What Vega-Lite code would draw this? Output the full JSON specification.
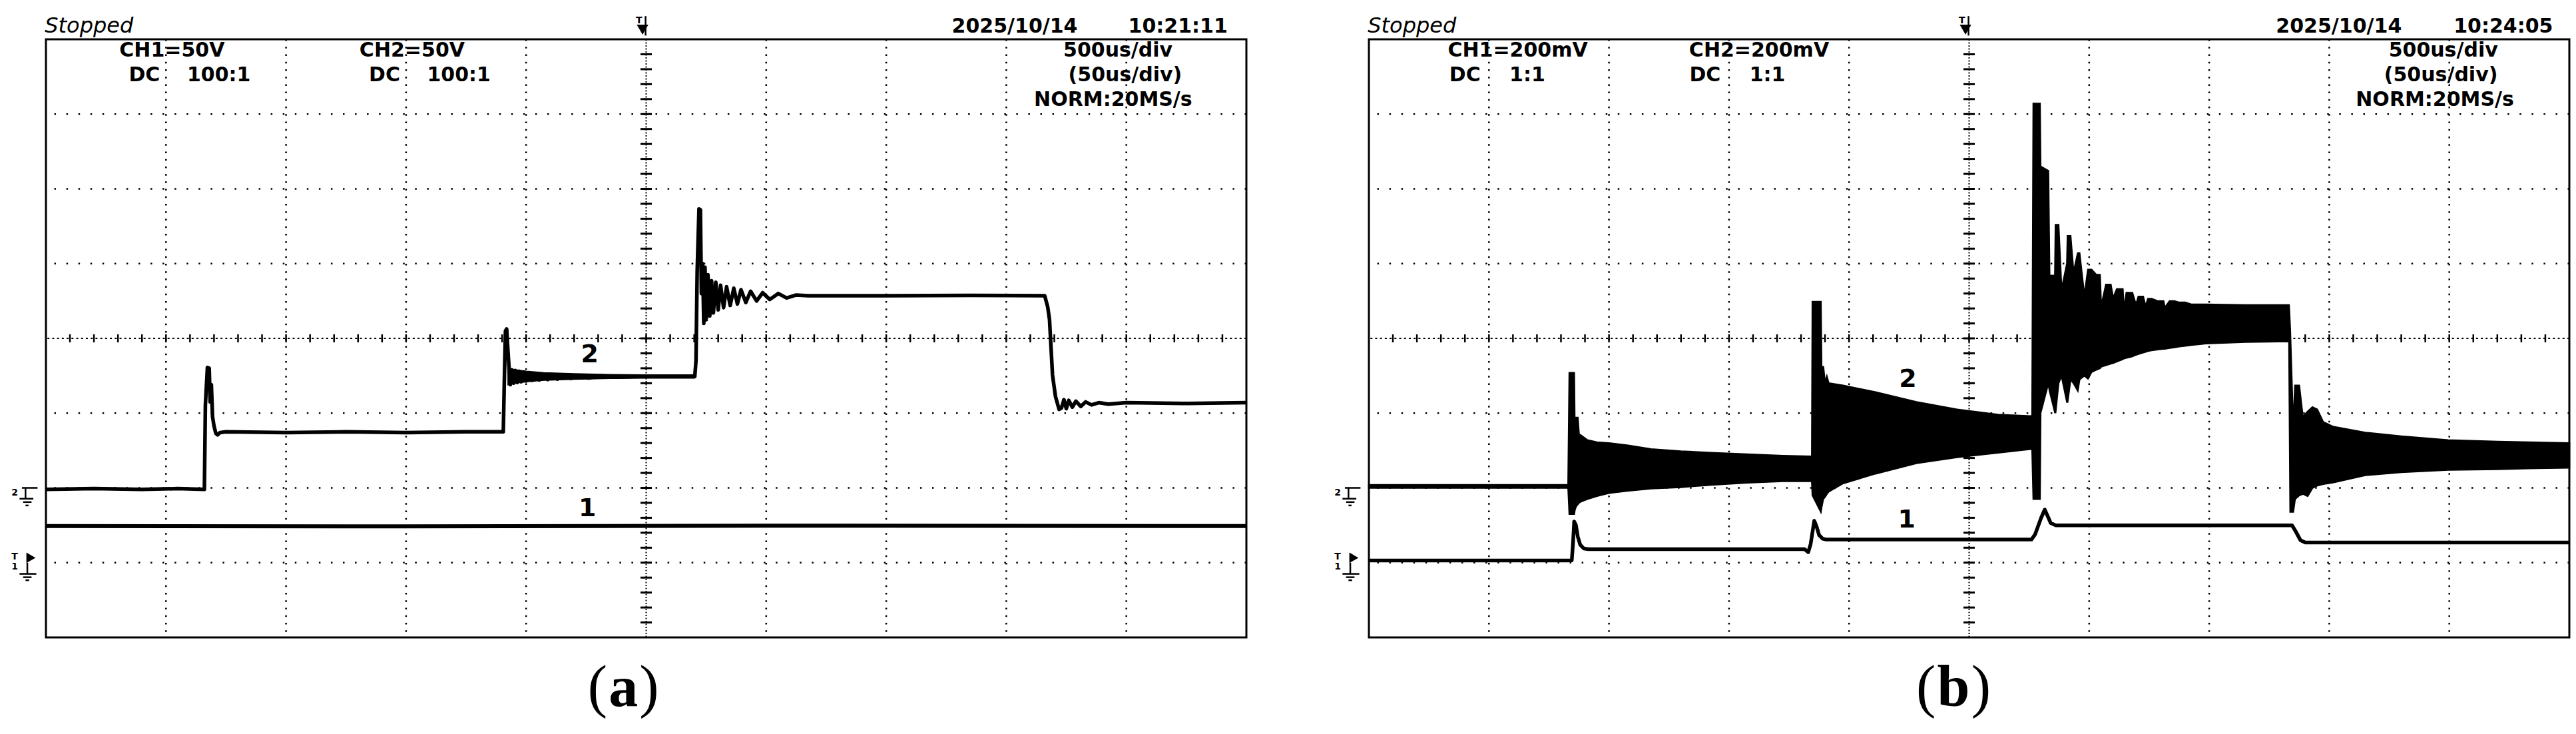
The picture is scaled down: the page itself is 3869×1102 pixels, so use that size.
{
"$schema": "https://vega.github.io/schema/vega-lite/v6.json",
"background": "white",
"padding": {"left": 15, "top": 21, "right": 5, "bottom": 5},
"spacing": 125,
"config": {"view": {"stroke": "black", "strokeWidth": 3}},
"datasets": {
"gx": [{"v":-4},{"v":-3},{"v":-2},{"v":-1},{"v":1},{"v":2},{"v":3},{"v":4}],
"gy": [{"v":-3},{"v":-2},{"v":-1},{"v":1},{"v":2},{"v":3}],
"c0": [{"v":0}],
"ty": [{"v":-3.8},{"v":-3.6},{"v":-3.4},{"v":-3.2},{"v":-3},{"v":-2.8},{"v":-2.6},{"v":-2.4},{"v":-2.2},{"v":-2},{"v":-1.8},{"v":-1.6},{"v":-1.4},{"v":-1.2},{"v":-1},{"v":-0.8},{"v":-0.6},{"v":-0.4},{"v":-0.2},{"v":0},{"v":0.2},{"v":0.4},{"v":0.6},{"v":0.8},{"v":1},{"v":1.2},{"v":1.4},{"v":1.6},{"v":1.8},{"v":2},{"v":2.2},{"v":2.4},{"v":2.6},{"v":2.8},{"v":3},{"v":3.2},{"v":3.4},{"v":3.6},{"v":3.8}],
"tx": [{"v":-4.8},{"v":-4.6},{"v":-4.4},{"v":-4.2},{"v":-4},{"v":-3.8},{"v":-3.6},{"v":-3.4},{"v":-3.2},{"v":-3},{"v":-2.8},{"v":-2.6},{"v":-2.4},{"v":-2.2},{"v":-2},{"v":-1.8},{"v":-1.6},{"v":-1.4},{"v":-1.2},{"v":-1},{"v":-0.8},{"v":-0.6},{"v":-0.4},{"v":-0.2},{"v":0},{"v":0.2},{"v":0.4},{"v":0.6},{"v":0.8},{"v":1},{"v":1.2},{"v":1.4},{"v":1.6},{"v":1.8},{"v":2},{"v":2.2},{"v":2.4},{"v":2.6},{"v":2.8},{"v":3},{"v":3.2},{"v":3.4},{"v":3.6},{"v":3.8},{"v":4},{"v":4.2},{"v":4.4},{"v":4.6},{"v":4.8}],
"mkr": [
{"x":-5.2,"x2":-5.07,"y":-2.0,"y2":-2.0},
{"x":-5.17,"x2":-5.17,"y":-2.0,"y2":-2.145},
{"x":-5.22,"x2":-5.105,"y":-2.145,"y2":-2.145},
{"x":-5.19,"x2":-5.12,"y":-2.19,"y2":-2.19},
{"x":-5.17,"x2":-5.145,"y":-2.235,"y2":-2.235},
{"x":-5.155,"x2":-5.155,"y":-3.0,"y2":-3.15},
{"x":-5.22,"x2":-5.08,"y":-3.15,"y2":-3.15},
{"x":-5.19,"x2":-5.12,"y":-3.195,"y2":-3.195},
{"x":-5.17,"x2":-5.14,"y":-3.235,"y2":-3.235},
{"x":-0.005,"x2":-0.005,"y":4.31,"y2":4.05}
],
"mkt": [{"x":-5.26,"y":-2.10,"t":"2"},{"x":-5.26,"y":-2.955,"t":"T"},{"x":-5.26,"y":-3.09,"t":"1"},{"x":-0.06,"y":4.21,"t":"T"}],
"tri1": [{"x":-5.125,"y":-2.935}],
"tri2": [{"x":-0.03,"y":4.13}],
"stp": [{"x":-5.01,"y":4.09,"t":"Stopped"}],
"hdrA": [
{"x":-3.95,"y":3.77,"t":"CH1=50V"},{"x":-1.95,"y":3.77,"t":"CH2=50V"},
{"x":-4.18,"y":3.44,"t":"DC"},{"x":-3.56,"y":3.44,"t":"100:1"},
{"x":-2.18,"y":3.44,"t":"DC"},{"x":-1.56,"y":3.44,"t":"100:1"},
{"x":3.93,"y":3.77,"t":"500us/div"},{"x":3.99,"y":3.44,"t":"(50us/div)"},{"x":3.89,"y":3.11,"t":"NORM:20MS/s"},
{"x":3.07,"y":4.09,"t":"2025/10/14"},{"x":4.43,"y":4.09,"t":"10:21:11"}],
"hdrB": [
{"x":-3.76,"y":3.77,"t":"CH1=200mV"},{"x":-1.75,"y":3.77,"t":"CH2=200mV"},
{"x":-4.2,"y":3.44,"t":"DC"},{"x":-3.68,"y":3.44,"t":"1:1"},
{"x":-2.2,"y":3.44,"t":"DC"},{"x":-1.68,"y":3.44,"t":"1:1"},
{"x":3.95,"y":3.77,"t":"500us/div"},{"x":3.93,"y":3.44,"t":"(50us/div)"},{"x":3.88,"y":3.11,"t":"NORM:20MS/s"},
{"x":3.08,"y":4.09,"t":"2025/10/14"},{"x":4.45,"y":4.09,"t":"10:24:05"}],
"lblA": [{"x":-0.47,"y":-0.32,"t":"2"},{"x":-0.49,"y":-2.38,"t":"1"}],
"lblB": [{"x":-0.51,"y":-0.65,"t":"2"},{"x":-0.52,"y":-2.53,"t":"1"}],
"parA": [{"x":-0.405,"y":-4.915,"t":"("},{"x":0.025,"y":-4.915,"t":")"}],
"letA": [{"x":-0.19,"y":-4.915,"t":"a"}],
"parB": [{"x":-0.36,"y":-4.915,"t":"("},{"x":0.1,"y":-4.915,"t":")"}],
"letB": [{"x":-0.13,"y":-4.915,"t":"b"}],
"aCH1": [{"x":-5,"y":-2.51},{"x":-2,"y":-2.515},{"x":1,"y":-2.505},{"x":5,"y":-2.51}],
"aBand": [
{"x":-1.15,"lo":-0.62,"hi":-0.40},{"x":-1.1,"lo":-0.6,"hi":-0.42},{"x":-1.0,"lo":-0.58,"hi":-0.44},
{"x":-0.85,"lo":-0.56,"hi":-0.46},{"x":-0.6,"lo":-0.545,"hi":-0.475},{"x":-0.3,"lo":-0.535,"hi":-0.485},
{"x":0.0,"lo":-0.53,"hi":-0.49},{"x":0.4,"lo":-0.53,"hi":-0.49}],
"aCH2": [
{"x":-5.0,"y":-2.02},{"x":-4.6,"y":-2.01},{"x":-4.2,"y":-2.02},{"x":-3.9,"y":-2.01},{"x":-3.68,"y":-2.02},
{"x":-3.672,"y":-0.9},{"x":-3.662,"y":-0.6},{"x":-3.655,"y":-0.39},{"x":-3.64,"y":-0.40},{"x":-3.632,"y":-0.85},
{"x":-3.622,"y":-0.62},{"x":-3.612,"y":-1.05},{"x":-3.60,"y":-1.17},{"x":-3.585,"y":-1.27},{"x":-3.57,"y":-1.29},
{"x":-3.55,"y":-1.26},{"x":-3.5,"y":-1.25},{"x":-3.0,"y":-1.26},{"x":-2.5,"y":-1.25},{"x":-2.0,"y":-1.26},
{"x":-1.5,"y":-1.25},{"x":-1.19,"y":-1.25},{"x":-1.182,"y":-0.6},{"x":-1.172,"y":0.1},{"x":-1.162,"y":0.125},
{"x":-1.152,"y":-0.15},{"x":-1.142,"y":-0.4},{"x":-1.132,"y":-0.62},{"x":-1.118,"y":-0.42},{"x":-1.104,"y":-0.6},
{"x":-1.09,"y":-0.43},{"x":-1.074,"y":-0.59},{"x":-1.058,"y":-0.44},{"x":-1.04,"y":-0.58},{"x":-1.02,"y":-0.45},
{"x":-1.0,"y":-0.57},{"x":-0.975,"y":-0.46},{"x":-0.95,"y":-0.56},{"x":-0.92,"y":-0.47},{"x":-0.89,"y":-0.555},
{"x":-0.855,"y":-0.48},{"x":-0.82,"y":-0.55},{"x":-0.78,"y":-0.485},{"x":-0.74,"y":-0.545},{"x":-0.69,"y":-0.49},
{"x":-0.63,"y":-0.535},{"x":-0.56,"y":-0.495},{"x":-0.48,"y":-0.53},{"x":-0.38,"y":-0.5},{"x":-0.25,"y":-0.52},
{"x":-0.1,"y":-0.51},{"x":0.405,"y":-0.51},{"x":0.415,"y":-0.3},{"x":0.425,"y":0.9},{"x":0.44,"y":1.73},
{"x":0.452,"y":1.72},{"x":0.46,"y":0.6},{"x":0.47,"y":1.0},{"x":0.48,"y":0.2},{"x":0.49,"y":0.95},
{"x":0.50,"y":0.25},{"x":0.515,"y":0.85},{"x":0.53,"y":0.3},{"x":0.545,"y":0.77},{"x":0.56,"y":0.34},
{"x":0.58,"y":0.75},{"x":0.60,"y":0.38},{"x":0.62,"y":0.71},{"x":0.645,"y":0.41},{"x":0.67,"y":0.69},
{"x":0.70,"y":0.44},{"x":0.73,"y":0.67},{"x":0.76,"y":0.46},{"x":0.79,"y":0.65},{"x":0.83,"y":0.48},
{"x":0.87,"y":0.63},{"x":0.92,"y":0.5},{"x":0.97,"y":0.61},{"x":1.03,"y":0.52},{"x":1.10,"y":0.6},
{"x":1.17,"y":0.54},{"x":1.25,"y":0.58},{"x":1.35,"y":0.57},{"x":2.0,"y":0.57},{"x":2.7,"y":0.575},
{"x":3.32,"y":0.57},{"x":3.345,"y":0.42},{"x":3.36,"y":0.25},{"x":3.385,"y":-0.49},{"x":3.41,"y":-0.78},
{"x":3.44,"y":-0.95},{"x":3.46,"y":-0.93},{"x":3.48,"y":-0.82},{"x":3.50,"y":-0.94},{"x":3.52,"y":-0.83},
{"x":3.55,"y":-0.92},{"x":3.58,"y":-0.84},{"x":3.62,"y":-0.91},{"x":3.66,"y":-0.85},{"x":3.71,"y":-0.89},
{"x":3.77,"y":-0.86},{"x":3.85,"y":-0.88},{"x":4.0,"y":-0.86},{"x":4.5,"y":-0.87},{"x":5.0,"y":-0.86}],
"bCH1": [
{"x":-5,"y":-2.97},{"x":-3.31,"y":-2.97},{"x":-3.30,"y":-2.75},{"x":-3.29,"y":-2.45},{"x":-3.275,"y":-2.5},
{"x":-3.26,"y":-2.65},{"x":-3.24,"y":-2.76},{"x":-3.21,"y":-2.81},{"x":-3.17,"y":-2.82},{"x":-1.37,"y":-2.82},
{"x":-1.34,"y":-2.86},{"x":-1.32,"y":-2.75},{"x":-1.29,"y":-2.44},{"x":-1.27,"y":-2.52},{"x":-1.25,"y":-2.63},
{"x":-1.22,"y":-2.68},{"x":-1.19,"y":-2.69},{"x":0.52,"y":-2.69},{"x":0.55,"y":-2.62},{"x":0.60,"y":-2.40},
{"x":0.63,"y":-2.29},{"x":0.655,"y":-2.38},{"x":0.68,"y":-2.47},{"x":0.72,"y":-2.50},{"x":2.69,"y":-2.50},
{"x":2.72,"y":-2.58},{"x":2.76,"y":-2.70},{"x":2.80,"y":-2.73},{"x":5,"y":-2.73}],
"bCH2": [
{"x":-5.0,"lo":-2.0,"hi":-1.96},{"x":-4.2,"lo":-2.0,"hi":-1.96},{"x":-3.34,"lo":-2.0,"hi":-1.96},
{"x":-3.33,"lo":-2.35,"hi":-0.46},{"x":-3.29,"lo":-2.35,"hi":-0.46},{"x":-3.285,"lo":-2.3,"hi":-1.2},
{"x":-3.275,"lo":-2.25,"hi":-1.06},{"x":-3.26,"lo":-2.22,"hi":-1.06},{"x":-3.25,"lo":-2.2,"hi":-1.28},
{"x":-3.23,"lo":-2.18,"hi":-1.30},{"x":-3.18,"lo":-2.15,"hi":-1.36},{"x":-3.1,"lo":-2.11,"hi":-1.39},
{"x":-3.0,"lo":-2.07,"hi":-1.40},{"x":-2.85,"lo":-2.04,"hi":-1.43},{"x":-2.65,"lo":-2.01,"hi":-1.48},
{"x":-2.4,"lo":-1.99,"hi":-1.51},{"x":-2.15,"lo":-1.96,"hi":-1.53},{"x":-1.85,"lo":-1.93,"hi":-1.55},
{"x":-1.55,"lo":-1.91,"hi":-1.57},{"x":-1.31,"lo":-1.91,"hi":-1.58},{"x":-1.305,"lo":-2.1,"hi":0.49},
{"x":-1.235,"lo":-2.32,"hi":0.49},{"x":-1.228,"lo":-2.25,"hi":-0.6},{"x":-1.215,"lo":-2.15,"hi":-0.37},
{"x":-1.20,"lo":-2.12,"hi":-0.6},{"x":-1.185,"lo":-2.08,"hi":-0.51},{"x":-1.17,"lo":-2.05,"hi":-0.6},
{"x":-1.05,"lo":-1.94,"hi":-0.63},{"x":-0.78,"lo":-1.81,"hi":-0.72},{"x":-0.44,"lo":-1.67,"hi":-0.85},
{"x":-0.1,"lo":-1.59,"hi":-0.95},{"x":0.24,"lo":-1.53,"hi":-1.02},{"x":0.525,"lo":-1.48,"hi":-1.04},
{"x":0.535,"lo":-2.15,"hi":3.14},{"x":0.59,"lo":-2.15,"hi":3.14},{"x":0.595,"lo":-1.0,"hi":2.3},
{"x":0.66,"lo":-0.6,"hi":2.24},{"x":0.67,"lo":-0.7,"hi":0.84},{"x":0.715,"lo":-0.99,"hi":0.84},
{"x":0.72,"lo":-0.99,"hi":1.52},{"x":0.745,"lo":-0.6,"hi":1.52},{"x":0.77,"lo":-0.5,"hi":0.65},
{"x":0.815,"lo":-0.85,"hi":1.0},{"x":0.82,"lo":-0.85,"hi":1.37},{"x":0.845,"lo":-0.55,"hi":1.37},
{"x":0.87,"lo":-0.6,"hi":0.88},{"x":0.905,"lo":-0.7,"hi":1.14},{"x":0.92,"lo":-0.55,"hi":1.14},
{"x":0.96,"lo":-0.5,"hi":0.57},{"x":0.99,"lo":-0.54,"hi":0.92},{"x":1.02,"lo":-0.45,"hi":0.92},
{"x":1.06,"lo":-0.42,"hi":0.85},{"x":1.09,"lo":-0.40,"hi":0.85},{"x":1.10,"lo":-0.38,"hi":0.43},
{"x":1.14,"lo":-0.36,"hi":0.72},{"x":1.18,"lo":-0.34,"hi":0.72},{"x":1.20,"lo":-0.33,"hi":0.54},
{"x":1.23,"lo":-0.31,"hi":0.66},{"x":1.28,"lo":-0.28,"hi":0.66},{"x":1.29,"lo":-0.27,"hi":0.38},
{"x":1.31,"lo":-0.26,"hi":0.61},{"x":1.36,"lo":-0.24,"hi":0.61},{"x":1.39,"lo":-0.22,"hi":0.45},
{"x":1.41,"lo":-0.21,"hi":0.56},{"x":1.45,"lo":-0.19,"hi":0.56},{"x":1.47,"lo":-0.18,"hi":0.43},
{"x":1.49,"lo":-0.17,"hi":0.53},{"x":1.52,"lo":-0.16,"hi":0.53},{"x":1.57,"lo":-0.15,"hi":0.50},
{"x":1.62,"lo":-0.14,"hi":0.50},{"x":1.63,"lo":-0.14,"hi":0.41},{"x":1.67,"lo":-0.13,"hi":0.50},
{"x":1.71,"lo":-0.12,"hi":0.50},{"x":1.75,"lo":-0.11,"hi":0.48},{"x":1.80,"lo":-0.10,"hi":0.48},
{"x":1.85,"lo":-0.09,"hi":0.455},{"x":1.97,"lo":-0.07,"hi":0.455},{"x":2.3,"lo":-0.05,"hi":0.445},
{"x":2.665,"lo":-0.04,"hi":0.445},{"x":2.675,"lo":-2.32,"hi":0.1},{"x":2.70,"lo":-2.32,"hi":-1.2},
{"x":2.715,"lo":-2.15,"hi":-0.63},{"x":2.75,"lo":-2.1,"hi":-0.63},{"x":2.78,"lo":-2.08,"hi":-1.05},
{"x":2.82,"lo":-2.11,"hi":-0.98},{"x":2.86,"lo":-2.0,"hi":-0.92},{"x":2.9,"lo":-1.97,"hi":-0.95},
{"x":2.95,"lo":-1.95,"hi":-1.12},{"x":3.03,"lo":-1.93,"hi":-1.18},{"x":3.30,"lo":-1.83,"hi":-1.26},
{"x":3.6,"lo":-1.79,"hi":-1.31},{"x":3.99,"lo":-1.76,"hi":-1.36},{"x":4.4,"lo":-1.75,"hi":-1.38},
{"x":4.66,"lo":-1.74,"hi":-1.39},{"x":5.0,"lo":-1.73,"hi":-1.40}]
},
"hconcat": [
{
"width": 1803, "height": 898,
"layer": [
{"data": {"name": "gx"}, "mark": {"type": "rule", "color": "black", "strokeWidth": 2.5, "strokeDash": [2.5, 8.73]},
 "encoding": {"x": {"field": "v", "type": "quantitative", "scale": {"domain": [-5, 5], "nice": false, "zero": false}, "axis": null}}},
{"data": {"name": "gy"}, "mark": {"type": "rule", "color": "black", "strokeWidth": 2.5, "strokeDash": [2.5, 15.56]},
 "encoding": {"y": {"field": "v", "type": "quantitative", "scale": {"domain": [-4, 4], "nice": false, "zero": false}, "axis": null}}},
{"data": {"name": "c0"}, "mark": {"type": "rule", "color": "black", "strokeWidth": 2, "strokeDash": [2, 2.5]},
 "encoding": {"x": {"field": "v", "type": "quantitative", "scale": {"domain": [-5, 5], "nice": false, "zero": false}, "axis": null}}},
{"data": {"name": "c0"}, "mark": {"type": "rule", "color": "black", "strokeWidth": 2, "strokeDash": [3, 4.22]},
 "encoding": {"y": {"field": "v", "type": "quantitative", "scale": {"domain": [-4, 4], "nice": false, "zero": false}, "axis": null}}},
{"data": {"name": "ty"}, "mark": {"type": "tick", "orient": "horizontal", "color": "black", "size": 17, "thickness": 3, "opacity": 1},
 "encoding": {"x": {"datum": 0, "type": "quantitative", "scale": {"domain": [-5, 5], "nice": false, "zero": false}, "axis": null},
  "y": {"field": "v", "type": "quantitative", "scale": {"domain": [-4, 4], "nice": false, "zero": false}, "axis": null}}},
{"data": {"name": "tx"}, "mark": {"type": "tick", "orient": "vertical", "color": "black", "size": 12, "thickness": 2.5, "opacity": 1},
 "encoding": {"x": {"field": "v", "type": "quantitative", "scale": {"domain": [-5, 5], "nice": false, "zero": false}, "axis": null},
  "y": {"datum": 0, "type": "quantitative", "scale": {"domain": [-4, 4], "nice": false, "zero": false}, "axis": null}}},
{"data": {"name": "aBand"}, "mark": {"type": "area", "color": "black", "stroke": "black", "strokeWidth": 2, "opacity": 1, "fillOpacity": 1},
 "encoding": {"x": {"field": "x", "type": "quantitative", "scale": {"domain": [-5, 5], "nice": false, "zero": false}, "axis": null},
  "y": {"field": "lo", "type": "quantitative", "scale": {"domain": [-4, 4], "nice": false, "zero": false}, "axis": null}, "y2": {"field": "hi"}}},
{"data": {"name": "aCH1"}, "mark": {"type": "line", "color": "black", "strokeWidth": 6, "strokeJoin": "round"},
 "encoding": {"x": {"field": "x", "type": "quantitative", "scale": {"domain": [-5, 5], "nice": false, "zero": false}, "axis": null},
  "y": {"field": "y", "type": "quantitative", "scale": {"domain": [-4, 4], "nice": false, "zero": false}, "axis": null}}},
{"data": {"name": "aCH2"}, "mark": {"type": "line", "color": "black", "strokeWidth": 5.5, "strokeJoin": "round"},
 "encoding": {"x": {"field": "x", "type": "quantitative", "scale": {"domain": [-5, 5], "nice": false, "zero": false}, "axis": null},
  "y": {"field": "y", "type": "quantitative", "scale": {"domain": [-4, 4], "nice": false, "zero": false}, "axis": null}}},
{"data": {"name": "mkr"}, "mark": {"type": "rule", "color": "black", "strokeWidth": 2.5},
 "encoding": {"x": {"field": "x", "type": "quantitative", "scale": {"domain": [-5, 5], "nice": false, "zero": false}, "axis": null}, "x2": {"field": "x2"},
  "y": {"field": "y", "type": "quantitative", "scale": {"domain": [-4, 4], "nice": false, "zero": false}, "axis": null}, "y2": {"field": "y2"}}},
{"data": {"name": "tri1"}, "mark": {"type": "point", "shape": "triangle-right", "filled": true, "size": 250, "color": "black", "opacity": 1},
 "encoding": {"x": {"field": "x", "type": "quantitative", "scale": {"domain": [-5, 5], "nice": false, "zero": false}, "axis": null},
  "y": {"field": "y", "type": "quantitative", "scale": {"domain": [-4, 4], "nice": false, "zero": false}, "axis": null}}},
{"data": {"name": "tri2"}, "mark": {"type": "point", "shape": "triangle-down", "filled": true, "size": 300, "color": "black", "opacity": 1},
 "encoding": {"x": {"field": "x", "type": "quantitative", "scale": {"domain": [-5, 5], "nice": false, "zero": false}, "axis": null},
  "y": {"field": "y", "type": "quantitative", "scale": {"domain": [-4, 4], "nice": false, "zero": false}, "axis": null}}},
{"data": {"name": "mkt"}, "mark": {"type": "text", "font": "DejaVu Sans", "fontWeight": "bold", "fontSize": 14, "align": "center", "baseline": "alphabetic", "color": "black"},
 "encoding": {"x": {"field": "x", "type": "quantitative", "scale": {"domain": [-5, 5], "nice": false, "zero": false}, "axis": null},
  "y": {"field": "y", "type": "quantitative", "scale": {"domain": [-4, 4], "nice": false, "zero": false}, "axis": null}, "text": {"field": "t"}}},
{"data": {"name": "stp"}, "mark": {"type": "text", "font": "DejaVu Sans", "fontStyle": "italic", "fontSize": 32, "align": "left", "baseline": "alphabetic", "color": "black"},
 "encoding": {"x": {"field": "x", "type": "quantitative", "scale": {"domain": [-5, 5], "nice": false, "zero": false}, "axis": null},
  "y": {"field": "y", "type": "quantitative", "scale": {"domain": [-4, 4], "nice": false, "zero": false}, "axis": null}, "text": {"field": "t"}}},
{"data": {"name": "hdrA"}, "mark": {"type": "text", "font": "DejaVu Sans", "fontWeight": "bold", "fontSize": 30, "align": "center", "baseline": "alphabetic", "color": "black"},
 "encoding": {"x": {"field": "x", "type": "quantitative", "scale": {"domain": [-5, 5], "nice": false, "zero": false}, "axis": null},
  "y": {"field": "y", "type": "quantitative", "scale": {"domain": [-4, 4], "nice": false, "zero": false}, "axis": null}, "text": {"field": "t"}}},
{"data": {"name": "lblA"}, "mark": {"type": "text", "font": "DejaVu Sans", "fontWeight": "bold", "fontSize": 38, "align": "center", "baseline": "alphabetic", "color": "black"},
 "encoding": {"x": {"field": "x", "type": "quantitative", "scale": {"domain": [-5, 5], "nice": false, "zero": false}, "axis": null},
  "y": {"field": "y", "type": "quantitative", "scale": {"domain": [-4, 4], "nice": false, "zero": false}, "axis": null}, "text": {"field": "t"}}},
{"data": {"name": "parA"}, "mark": {"type": "text", "font": "Liberation Serif", "fontSize": 88, "align": "center", "baseline": "alphabetic", "color": "black"},
 "encoding": {"x": {"field": "x", "type": "quantitative", "scale": {"domain": [-5, 5], "nice": false, "zero": false}, "axis": null},
  "y": {"field": "y", "type": "quantitative", "scale": {"domain": [-4, 4], "nice": false, "zero": false}, "axis": null}, "text": {"field": "t"}}},
{"data": {"name": "letA"}, "mark": {"type": "text", "font": "Liberation Serif", "fontWeight": "bold", "fontSize": 88, "align": "center", "baseline": "alphabetic", "color": "black"},
 "encoding": {"x": {"field": "x", "type": "quantitative", "scale": {"domain": [-5, 5], "nice": false, "zero": false}, "axis": null},
  "y": {"field": "y", "type": "quantitative", "scale": {"domain": [-4, 4], "nice": false, "zero": false}, "axis": null}, "text": {"field": "t"}}}
]
},
{
"width": 1803, "height": 898,
"layer": [
{"data": {"name": "gx"}, "mark": {"type": "rule", "color": "black", "strokeWidth": 2.5, "strokeDash": [2.5, 8.73]},
 "encoding": {"x": {"field": "v", "type": "quantitative", "scale": {"domain": [-5, 5], "nice": false, "zero": false}, "axis": null}}},
{"data": {"name": "gy"}, "mark": {"type": "rule", "color": "black", "strokeWidth": 2.5, "strokeDash": [2.5, 15.56]},
 "encoding": {"y": {"field": "v", "type": "quantitative", "scale": {"domain": [-4, 4], "nice": false, "zero": false}, "axis": null}}},
{"data": {"name": "c0"}, "mark": {"type": "rule", "color": "black", "strokeWidth": 2, "strokeDash": [2, 2.5]},
 "encoding": {"x": {"field": "v", "type": "quantitative", "scale": {"domain": [-5, 5], "nice": false, "zero": false}, "axis": null}}},
{"data": {"name": "c0"}, "mark": {"type": "rule", "color": "black", "strokeWidth": 2, "strokeDash": [3, 4.22]},
 "encoding": {"y": {"field": "v", "type": "quantitative", "scale": {"domain": [-4, 4], "nice": false, "zero": false}, "axis": null}}},
{"data": {"name": "ty"}, "mark": {"type": "tick", "orient": "horizontal", "color": "black", "size": 17, "thickness": 3, "opacity": 1},
 "encoding": {"x": {"datum": 0, "type": "quantitative", "scale": {"domain": [-5, 5], "nice": false, "zero": false}, "axis": null},
  "y": {"field": "v", "type": "quantitative", "scale": {"domain": [-4, 4], "nice": false, "zero": false}, "axis": null}}},
{"data": {"name": "tx"}, "mark": {"type": "tick", "orient": "vertical", "color": "black", "size": 12, "thickness": 2.5, "opacity": 1},
 "encoding": {"x": {"field": "v", "type": "quantitative", "scale": {"domain": [-5, 5], "nice": false, "zero": false}, "axis": null},
  "y": {"datum": 0, "type": "quantitative", "scale": {"domain": [-4, 4], "nice": false, "zero": false}, "axis": null}}},
{"data": {"name": "bCH2"}, "mark": {"type": "area", "color": "black", "stroke": "black", "strokeWidth": 2.5, "opacity": 1, "fillOpacity": 1},
 "encoding": {"x": {"field": "x", "type": "quantitative", "scale": {"domain": [-5, 5], "nice": false, "zero": false}, "axis": null},
  "y": {"field": "lo", "type": "quantitative", "scale": {"domain": [-4, 4], "nice": false, "zero": false}, "axis": null}, "y2": {"field": "hi"}}},
{"data": {"name": "bCH1"}, "mark": {"type": "line", "color": "black", "strokeWidth": 5.5, "strokeJoin": "round"},
 "encoding": {"x": {"field": "x", "type": "quantitative", "scale": {"domain": [-5, 5], "nice": false, "zero": false}, "axis": null},
  "y": {"field": "y", "type": "quantitative", "scale": {"domain": [-4, 4], "nice": false, "zero": false}, "axis": null}}},
{"data": {"name": "mkr"}, "mark": {"type": "rule", "color": "black", "strokeWidth": 2.5},
 "encoding": {"x": {"field": "x", "type": "quantitative", "scale": {"domain": [-5, 5], "nice": false, "zero": false}, "axis": null}, "x2": {"field": "x2"},
  "y": {"field": "y", "type": "quantitative", "scale": {"domain": [-4, 4], "nice": false, "zero": false}, "axis": null}, "y2": {"field": "y2"}}},
{"data": {"name": "tri1"}, "mark": {"type": "point", "shape": "triangle-right", "filled": true, "size": 250, "color": "black", "opacity": 1},
 "encoding": {"x": {"field": "x", "type": "quantitative", "scale": {"domain": [-5, 5], "nice": false, "zero": false}, "axis": null},
  "y": {"field": "y", "type": "quantitative", "scale": {"domain": [-4, 4], "nice": false, "zero": false}, "axis": null}}},
{"data": {"name": "tri2"}, "mark": {"type": "point", "shape": "triangle-down", "filled": true, "size": 300, "color": "black", "opacity": 1},
 "encoding": {"x": {"field": "x", "type": "quantitative", "scale": {"domain": [-5, 5], "nice": false, "zero": false}, "axis": null},
  "y": {"field": "y", "type": "quantitative", "scale": {"domain": [-4, 4], "nice": false, "zero": false}, "axis": null}}},
{"data": {"name": "mkt"}, "mark": {"type": "text", "font": "DejaVu Sans", "fontWeight": "bold", "fontSize": 14, "align": "center", "baseline": "alphabetic", "color": "black"},
 "encoding": {"x": {"field": "x", "type": "quantitative", "scale": {"domain": [-5, 5], "nice": false, "zero": false}, "axis": null},
  "y": {"field": "y", "type": "quantitative", "scale": {"domain": [-4, 4], "nice": false, "zero": false}, "axis": null}, "text": {"field": "t"}}},
{"data": {"name": "stp"}, "mark": {"type": "text", "font": "DejaVu Sans", "fontStyle": "italic", "fontSize": 32, "align": "left", "baseline": "alphabetic", "color": "black"},
 "encoding": {"x": {"field": "x", "type": "quantitative", "scale": {"domain": [-5, 5], "nice": false, "zero": false}, "axis": null},
  "y": {"field": "y", "type": "quantitative", "scale": {"domain": [-4, 4], "nice": false, "zero": false}, "axis": null}, "text": {"field": "t"}}},
{"data": {"name": "hdrB"}, "mark": {"type": "text", "font": "DejaVu Sans", "fontWeight": "bold", "fontSize": 30, "align": "center", "baseline": "alphabetic", "color": "black"},
 "encoding": {"x": {"field": "x", "type": "quantitative", "scale": {"domain": [-5, 5], "nice": false, "zero": false}, "axis": null},
  "y": {"field": "y", "type": "quantitative", "scale": {"domain": [-4, 4], "nice": false, "zero": false}, "axis": null}, "text": {"field": "t"}}},
{"data": {"name": "lblB"}, "mark": {"type": "text", "font": "DejaVu Sans", "fontWeight": "bold", "fontSize": 38, "align": "center", "baseline": "alphabetic", "color": "black"},
 "encoding": {"x": {"field": "x", "type": "quantitative", "scale": {"domain": [-5, 5], "nice": false, "zero": false}, "axis": null},
  "y": {"field": "y", "type": "quantitative", "scale": {"domain": [-4, 4], "nice": false, "zero": false}, "axis": null}, "text": {"field": "t"}}},
{"data": {"name": "parB"}, "mark": {"type": "text", "font": "Liberation Serif", "fontSize": 88, "align": "center", "baseline": "alphabetic", "color": "black"},
 "encoding": {"x": {"field": "x", "type": "quantitative", "scale": {"domain": [-5, 5], "nice": false, "zero": false}, "axis": null},
  "y": {"field": "y", "type": "quantitative", "scale": {"domain": [-4, 4], "nice": false, "zero": false}, "axis": null}, "text": {"field": "t"}}},
{"data": {"name": "letB"}, "mark": {"type": "text", "font": "Liberation Serif", "fontWeight": "bold", "fontSize": 88, "align": "center", "baseline": "alphabetic", "color": "black"},
 "encoding": {"x": {"field": "x", "type": "quantitative", "scale": {"domain": [-5, 5], "nice": false, "zero": false}, "axis": null},
  "y": {"field": "y", "type": "quantitative", "scale": {"domain": [-4, 4], "nice": false, "zero": false}, "axis": null}, "text": {"field": "t"}}}
]
}
]
}
